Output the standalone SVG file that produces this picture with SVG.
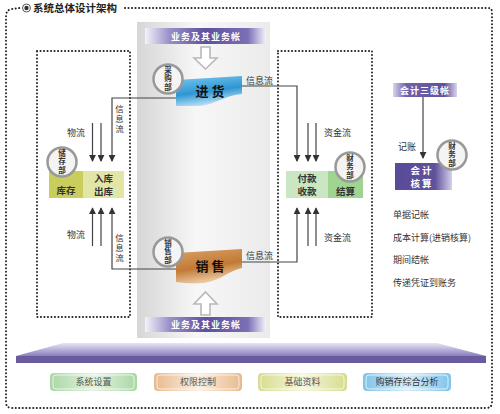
<svg xmlns="http://www.w3.org/2000/svg" width="500" height="414" viewBox="0 0 500 414">
<defs>
<style>
text{font-family:"Noto Sans CJK SC","Noto Sans",sans-serif}
.dot{fill:none;stroke:#222;stroke-width:2;stroke-dasharray:0.1 3.4;stroke-linecap:round}
.ln{fill:none;stroke:#444;stroke-width:1.2}
.lbl{font-size:9px;fill:#333}
.vl{font-size:8.5px;fill:#333;text-anchor:middle;writing-mode:vertical-rl;letter-spacing:1.5px}
.ban{font-size:9px;font-weight:bold;fill:#fff;text-anchor:middle;letter-spacing:1px}
.big{font-size:13px;font-weight:bold;fill:#111;text-anchor:middle}
.cir{fill:#f4f4f4;stroke:#999;stroke-width:2.5}
.ct{font-size:7.5px;font-weight:bold;fill:#333;text-anchor:middle;writing-mode:vertical-rl;letter-spacing:0.8px}
.box{font-size:9.5px;font-weight:bold;fill:#333;text-anchor:middle}
.holl{fill:#fff;stroke:#b8b8b8;stroke-width:1.6}
.btn{font-size:9px;fill:#555;text-anchor:middle}
.lst{font-size:9px;fill:#333}
</style>
<marker id="ah" viewBox="0 0 8 8" refX="7" refY="4" markerWidth="7" markerHeight="7" orient="auto" markerUnits="userSpaceOnUse"><path d="M0,0 L8,4 L0,8 Z" fill="#333"/></marker>
<linearGradient id="col" x1="0" y1="0" x2="1" y2="0"><stop offset="0" stop-color="#d6d6d6"/><stop offset="0.45" stop-color="#f7f7f7"/><stop offset="1" stop-color="#ebebeb"/></linearGradient>
<linearGradient id="pb" x1="0" y1="0" x2="1" y2="0"><stop offset="0" stop-color="#f4f2fa"/><stop offset="0.2" stop-color="#9b90c9"/><stop offset="0.5" stop-color="#5f519c"/><stop offset="0.85" stop-color="#7b6fb6"/><stop offset="1" stop-color="#f4f2fa"/></linearGradient>
<linearGradient id="pb2" x1="0" y1="0" x2="1" y2="0"><stop offset="0" stop-color="#d9d4ec"/><stop offset="0.2" stop-color="#6f62ad"/><stop offset="0.8" stop-color="#5f519c"/><stop offset="1" stop-color="#d9d4ec"/></linearGradient>
<linearGradient id="pk" x1="0" y1="0" x2="1" y2="0"><stop offset="0" stop-color="#5a4b98"/><stop offset="0.7" stop-color="#5f519c"/><stop offset="1" stop-color="#d6d0ea"/></linearGradient>
<linearGradient id="blue" x1="0" y1="0" x2="0.3" y2="1"><stop offset="0" stop-color="#7ccbef"/><stop offset="0.6" stop-color="#2f96d3"/><stop offset="1" stop-color="#b7def4"/></linearGradient>
<linearGradient id="org" x1="0" y1="0" x2="0.3" y2="1"><stop offset="0" stop-color="#d9a066"/><stop offset="0.6" stop-color="#c27a35"/><stop offset="1" stop-color="#ecc9a2"/></linearGradient>
<linearGradient id="plt" x1="0" y1="0" x2="0" y2="1"><stop offset="0" stop-color="#e8e5f3"/><stop offset="1" stop-color="#8a7ec0"/></linearGradient>
<linearGradient id="gG" x1="0" y1="0" x2="1" y2="0"><stop offset="0" stop-color="#a9d7a4"/><stop offset="0.5" stop-color="#e4f2e1"/><stop offset="1" stop-color="#a9d7a4"/></linearGradient>
<linearGradient id="gO" x1="0" y1="0" x2="1" y2="0"><stop offset="0" stop-color="#e9b98c"/><stop offset="0.5" stop-color="#fbeee2"/><stop offset="1" stop-color="#e9b98c"/></linearGradient>
<linearGradient id="gY" x1="0" y1="0" x2="1" y2="0"><stop offset="0" stop-color="#d7dc8d"/><stop offset="0.5" stop-color="#f5f6dc"/><stop offset="1" stop-color="#d7dc8d"/></linearGradient>
<linearGradient id="gB" x1="0" y1="0" x2="1" y2="0"><stop offset="0" stop-color="#7ec3ea"/><stop offset="0.5" stop-color="#d6edf9"/><stop offset="1" stop-color="#7ec3ea"/></linearGradient>
</defs>

<!-- outer frame and title -->
<g id="frame">
<path class="dot" d="M125,8 L488,8 Q492,8 492,12 L492,402 Q492,408 486,408 L12,408 Q6,408 6,402 L6,16 Q6,10 12,9 L20,8"/>
<circle cx="26.5" cy="8" r="4" fill="#fff" stroke="#555" stroke-width="1"/>
<circle cx="26.5" cy="8" r="2.2" fill="#333"/>
<text x="33" y="12" font-size="10.5" font-weight="bold" fill="#222">系统总体设计架构</text>
</g>

<!-- central column -->
<g id="column">
<rect x="137" y="22" width="133" height="316" fill="url(#col)"/>
</g>

<!-- dotted boxes -->
<g id="leftBox"><rect class="dot" x="37" y="51" width="93" height="266"/></g>
<g id="rightBox"><rect class="dot" x="278" y="51" width="94" height="266"/></g>

<g id="topBanner">
<rect x="145" y="28" width="121" height="16" fill="url(#pb)"/>
<text class="ban" x="206" y="39.5">业务及其业务帐</text>
</g>
<g id="downArrow"><path class="holl" d="M201,47 L210,47 L210,58 L217,58 L205.5,69 L194,58 L201,58 Z"/></g>

<g id="bottomBanner">
<rect x="145" y="317" width="121" height="15" fill="url(#pb)"/>
<text class="ban" x="206" y="328">业务及其业务帐</text>
</g>
<g id="upArrow"><path class="holl" d="M201,315 L210,315 L210,304 L217,304 L205.5,292 L194,304 L201,304 Z"/></g>

<!-- connectors -->
<g id="connectors">
<polyline class="ln" points="176,98 112,98 112,161" marker-end="url(#ah)"/>
<line class="ln" x1="92.5" y1="123" x2="92.5" y2="161" marker-end="url(#ah)"/>
<line class="ln" x1="101" y1="123" x2="101" y2="161" marker-end="url(#ah)"/>
<polyline class="ln" points="176,269 112,269 112,208" marker-end="url(#ah)"/>
<line class="ln" x1="92.5" y1="246" x2="92.5" y2="208" marker-end="url(#ah)"/>
<line class="ln" x1="101" y1="246" x2="101" y2="208" marker-end="url(#ah)"/>
<polyline class="ln" points="242,86 297,86 297,161" marker-end="url(#ah)"/>
<line class="ln" x1="308" y1="123" x2="308" y2="161" marker-end="url(#ah)"/>
<line class="ln" x1="316" y1="123" x2="316" y2="161" marker-end="url(#ah)"/>
<polyline class="ln" points="242,262 297,262 297,208" marker-end="url(#ah)"/>
<line class="ln" x1="308" y1="246" x2="308" y2="208" marker-end="url(#ah)"/>
<line class="ln" x1="316" y1="246" x2="316" y2="208" marker-end="url(#ah)"/>
<line class="ln" x1="423" y1="97" x2="423" y2="158" marker-end="url(#ah)"/>
<text class="lbl" x="67" y="136">物流</text>
<text class="lbl" x="67" y="238">物流</text>
<text class="vl" x="119.5" y="120">信息流</text>
<text class="vl" x="119.5" y="249">信息流</text>
<text class="lbl" x="246" y="84">信息流</text>
<text class="lbl" x="246" y="259">信息流</text>
<text class="lbl" x="324" y="136">资金流</text>
<text class="lbl" x="324" y="241">资金流</text>
<text class="lbl" x="398" y="150">记账</text>
</g>

<g id="jinhuo">
<path d="M176,80 L242,76 L242,94 C226,95 216,104 200,106 L176,106 Z" fill="url(#blue)"/>
<text class="big" x="210" y="96">进 货</text>
<circle class="cir" cx="168" cy="79" r="14.5"/>
<text class="ct" x="168" y="79">采购部</text>
</g>

<g id="xiaoshou">
<path d="M176,253 L242,249 L242,268 C230,270 220,281 204,283 C192,284 183,283 176,282 Z" fill="url(#org)"/>
<text class="big" x="210" y="271">销 售</text>
<circle class="cir" cx="168" cy="252" r="14.5"/>
<text class="ct" x="168" y="252">销售部</text>
</g>

<g id="cangku">
<rect x="49" y="171" width="34" height="27" fill="#c8cd5c"/>
<rect x="83" y="171" width="41" height="27" fill="#e2e5a6"/>
<text class="box" x="66" y="194">库存</text>
<text class="box" x="103.5" y="181.5">入库</text>
<text class="box" x="103.5" y="195.4">出库</text>
<circle class="cir" cx="62" cy="162" r="14.5"/>
<text class="ct" x="62" y="162">储存部</text>
</g>

<g id="caiwu">
<rect x="286" y="171" width="42" height="27" fill="#cbe6c3"/>
<rect x="328" y="171" width="35" height="27" fill="#9fd491"/>
<text class="box" x="307" y="181.5">付款</text>
<text class="box" x="307" y="195.4">收款</text>
<text class="box" x="345.5" y="195">结算</text>
<circle class="cir" cx="350" cy="167" r="14.5"/>
<text class="ct" x="350" y="167">财务部</text>
</g>

<g id="sanjizhang">
<rect x="393" y="83" width="64" height="14" fill="url(#pb2)"/>
<text class="ban" x="425" y="93.5">会计三级帐</text>
</g>

<g id="kuaijihesuan">
<rect x="395" y="163" width="57" height="27" fill="url(#pk)"/>
<text class="box" x="421" y="173.5" style="fill:#fff">会 计</text>
<text class="box" x="421" y="187.4" style="fill:#fff">核 算</text>
<circle class="cir" cx="452" cy="155" r="14.5"/>
<text class="ct" x="452" y="155">财务部</text>
</g>

<g id="list">
<text class="lst" x="393" y="218">单据记帐</text>
<text class="lst" x="393" y="241">成本计算(进销核算)</text>
<text class="lst" x="393" y="263">期间结帐</text>
<text class="lst" x="393" y="286">传递凭证到账务</text>
</g>

<g id="platform">
<polygon points="63,343 437,343 486,356 16,356" fill="url(#plt)"/>
<rect x="16" y="356" width="470" height="7" fill="#6a5b9f"/>
</g>

<g id="btn1"><rect x="50" y="373" width="87" height="18" rx="4" fill="url(#gG)"/><rect x="53" y="375" width="81" height="14" rx="3" fill="none" stroke="#fff" stroke-opacity="0.7"/><text class="btn" x="93.5" y="385">系统设置</text></g>
<g id="btn2"><rect x="154" y="373" width="88" height="18" rx="4" fill="url(#gO)"/><rect x="157" y="375" width="82" height="14" rx="3" fill="none" stroke="#fff" stroke-opacity="0.7"/><text class="btn" x="198" y="385">权限控制</text></g>
<g id="btn3"><rect x="258" y="373" width="89" height="18" rx="4" fill="url(#gY)"/><rect x="261" y="375" width="83" height="14" rx="3" fill="none" stroke="#fff" stroke-opacity="0.7"/><text class="btn" x="302.5" y="385">基础资料</text></g>
<g id="btn4"><rect x="363" y="373" width="88" height="18" rx="4" fill="url(#gB)"/><rect x="366" y="375" width="82" height="14" rx="3" fill="none" stroke="#fff" stroke-opacity="0.7"/><text class="btn" x="407" y="385" style="fill:#333">购销存综合分析</text></g>
</svg>
